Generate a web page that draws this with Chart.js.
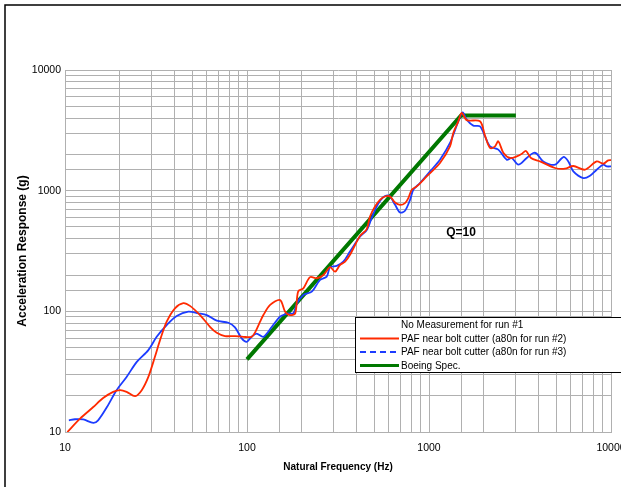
<!DOCTYPE html>
<html>
<head>
<meta charset="utf-8">
<script src="https://cdn.jsdelivr.net/npm/chart.js@4"></script>
<style>
  html, body { margin: 0; padding: 0; background: #fff; }
  #wrap { position: relative; width: 621px; height: 487px; overflow: hidden; background: #fff; }
  #c { position: absolute; left: 0; top: 0; }
</style>
</head>
<body>
<div id="wrap"><canvas id="c" width="680" height="487"></canvas></div>
<script>
// Shock response spectrum, acceleration (g) versus natural frequency (Hz)
const freqRun2 = [10.3, 12.1, 14.3, 16.2, 18.4, 20.1, 21.8, 24.3, 26.4, 28.7,
  31.2, 33.3, 36.2, 40.2, 44.7, 48.6, 55.2, 62.6, 68.2, 75.7,
  85.9, 95.4, 106, 111, 118, 123, 134, 152, 162, 172,
  184, 191, 204, 222, 242, 263, 286, 305, 324, 346,
  368, 418, 455, 474, 505, 538, 573, 611, 651, 693,
  738, 770, 804, 856, 971, 1149, 1304, 1360, 1449, 1513,
  1611, 1906, 2031, 2164, 2305, 2404, 2560, 2786, 3034, 3243,
  3412, 3634, 4074, 4924, 5590, 6209, 7197, 8343, 9073, 9661, 10260];
const accelRun2 = [10.0, 12.9, 16.1, 19.1, 21.5, 22.2, 21.5, 19.8, 22.2, 28.6,
  42.0, 57.8, 82.0, 106, 117, 111, 93.1, 74.5, 66.4, 62.4,
  62.4, 61.5, 61.5, 67.3, 82, 93.1, 113, 124, 99.3, 93.1,
  96.2, 146, 155, 192, 188, 200, 232, 213, 242, 258,
  294, 422, 480, 611, 740, 840, 895, 895, 798, 764,
  789, 868, 1017, 1084, 1312, 1695, 2328, 3009, 3757, 4411,
  3843, 3757, 2858, 2258, 2328, 2563, 2065, 1866, 1923, 2025,
  2133, 1866, 1748, 1541, 1520, 1601, 1492, 1748, 1673, 1782, 1785];

const freqRun3 = [10.5, 11.35, 12.6, 14.3, 15.2, 17.0, 19.2, 21.8, 24.8, 28.7,
  31.9, 36.2, 41.1, 47.6, 54.0, 60.1, 68.2, 79.0, 85.9, 93.5,
  99.6, 106, 113, 123, 137, 152, 169, 180, 188, 204,
  227, 252, 274, 286, 311, 338, 368, 418, 455, 484,
  516, 561, 605, 651, 693, 738, 787, 820, 892, 1013,
  1149, 1304, 1449, 1532, 1611, 1751, 1906, 2031, 2164, 2404,
  2673, 2847, 3096, 3442, 3742, 3908, 4246, 4924, 5470, 5829,
  6209, 7044, 7667, 8343, 9073, 9472, 10090];
const accelRun3 = [12.5, 12.75, 12.7, 11.9, 12.5, 16.1, 22.2, 28.6, 38.1, 47.7,
  61.5, 76.9, 91.4, 99.3, 96.2, 93.1, 83.6, 80.4, 73.6, 59.7,
  55.9, 61.5, 65.4, 61.5, 74.5, 90.2, 96.2, 96.2, 116.5, 136.6,
  145.5, 182, 194, 232, 238, 258, 313, 417, 473, 592,
  740, 885, 907, 764, 659, 681, 840, 1017, 1156, 1444,
  1806, 2485, 3757, 4462, 3880, 3459, 3414, 2818, 2328, 2188,
  1806, 1866, 1641, 1866, 2053, 2025, 1748, 1641, 1901, 1748,
  1444, 1273, 1330, 1492, 1641, 1589, 1589];

const specFreq = [100, 1500, 3000];
const specAccel = [40, 4200, 4200];

const decadeTicks = [10, 100, 1000, 10000];
const legendNames = [
  'No Measurement for run #1',
  'PAF near bolt cutter (a80n for run #2)',
  'PAF near bolt cutter (a80n for run #3)',
  'Boeing Spec.'
];
const qLabel = 'Q=10';

const toPoints = (xs, ys) => xs.map((x, i) => ({ x, y: ys[i] }));

const RED = '#ff2a00';
const BLUE = '#1c3cff';
const GREEN = '#007800';
const GRID = '#b0b0b0';
const FONT = "'Liberation Sans', Arial, sans-serif";

const decadeLabel = (v) => {
  const hit = decadeTicks.find(t => Math.abs(t - v) < 1e-6 * t);
  return hit ? String(hit) : '';
};

// Frame, Q annotation and the boxed legend inside the plot
const overlay = {
  id: 'overlay',
  afterDraw(chart) {
    const ctx = chart.ctx;
    const xs = chart.scales.x, ys = chart.scales.y;
    ctx.save();
    // outer frame
    ctx.strokeStyle = '#000';
    ctx.lineWidth = 1.5;
    ctx.strokeRect(5, 5, 800, 800);

    // Q annotation
    ctx.fillStyle = '#000';
    ctx.font = "bold 12px " + FONT;
    ctx.textAlign = 'center';
    ctx.textBaseline = 'middle';
    ctx.fillText(qLabel, xs.getPixelForValue(1500), ys.getPixelForValue(450));

    // legend box
    const bx = 355.5, by = 317.5, bw = 300, bh = 55;
    ctx.fillStyle = '#fff';
    ctx.fillRect(bx, by, bw, bh);
    ctx.strokeStyle = '#000';
    ctx.lineWidth = 1;
    ctx.strokeRect(bx, by, bw, bh);

    const rowsY = [325, 338.5, 352, 365.5];
    const styles = [null,
      { c: RED, w: 2, d: [] },
      { c: BLUE, w: 2, d: [6, 4] },
      { c: GREEN, w: 3, d: [] }];
    ctx.font = "10px " + FONT;
    ctx.textAlign = 'left';
    ctx.textBaseline = 'middle';
    legendNames.forEach((name, i) => {
      const s = styles[i];
      if (s) {
        ctx.beginPath();
        ctx.strokeStyle = s.c;
        ctx.lineWidth = s.w;
        ctx.setLineDash(s.d);
        ctx.moveTo(360, rowsY[i]);
        ctx.lineTo(399, rowsY[i]);
        ctx.stroke();
        ctx.setLineDash([]);
      }
      ctx.fillStyle = '#000';
      ctx.fillText(name, 401, rowsY[i] + 0.5);
    });
    ctx.restore();
  }
};

new Chart(document.getElementById('c'), {
  type: 'line',
  data: {
    datasets: [
      {
        label: legendNames[1],
        data: toPoints(freqRun2, accelRun2),
        borderColor: RED, borderWidth: 1.8, pointRadius: 0, tension: 0.3, fill: false
      },
      {
        label: legendNames[2],
        data: toPoints(freqRun3, accelRun3),
        borderColor: BLUE, borderWidth: 1.8, pointRadius: 0, tension: 0.3, fill: false
      },
      {
        label: legendNames[3],
        data: toPoints(specFreq, specAccel),
        borderColor: GREEN, borderWidth: 4, pointRadius: 0, tension: 0, fill: false
      }
    ]
  },
  options: {
    responsive: false,
    animation: false,
    layout: { padding: { left: 0, top: 70, right: 69, bottom: 0 } },
    plugins: { legend: { display: false }, tooltip: { enabled: false } },
    scales: {
      x: {
        type: 'logarithmic', min: 10, max: 10000,
        grid: { color: GRID, lineWidth: 1, drawTicks: false },
        border: { color: GRID },
        ticks: {
          autoSkip: false, maxRotation: 0, padding: 10, color: '#000',
          font: { family: FONT, size: 10.5 },
          callback: (v) => decadeLabel(v)
        },
        title: {
          display: true, text: 'Natural Frequency (Hz)', color: '#000',
          font: { family: FONT, size: 10, weight: 'bold' },
          padding: { top: 0, bottom: 14 }
        },
        afterFit: (s) => { s.height = 55; }
      },
      y: {
        type: 'logarithmic', min: 10, max: 10000,
        grid: { color: GRID, lineWidth: 1, drawTicks: false },
        border: { color: GRID },
        ticks: {
          autoSkip: false, padding: 4, color: '#000',
          font: { family: FONT, size: 10.5 },
          callback: (v) => decadeLabel(v)
        },
        title: {
          display: true, text: 'Acceleration Response (g)', color: '#000',
          font: { family: FONT, size: 12, weight: 'bold' },
          padding: { top: 15, bottom: 0 }
        },
        afterFit: (s) => { s.width = 65; }
      }
    }
  },
  plugins: [overlay]
});
</script>
</body>
</html>
